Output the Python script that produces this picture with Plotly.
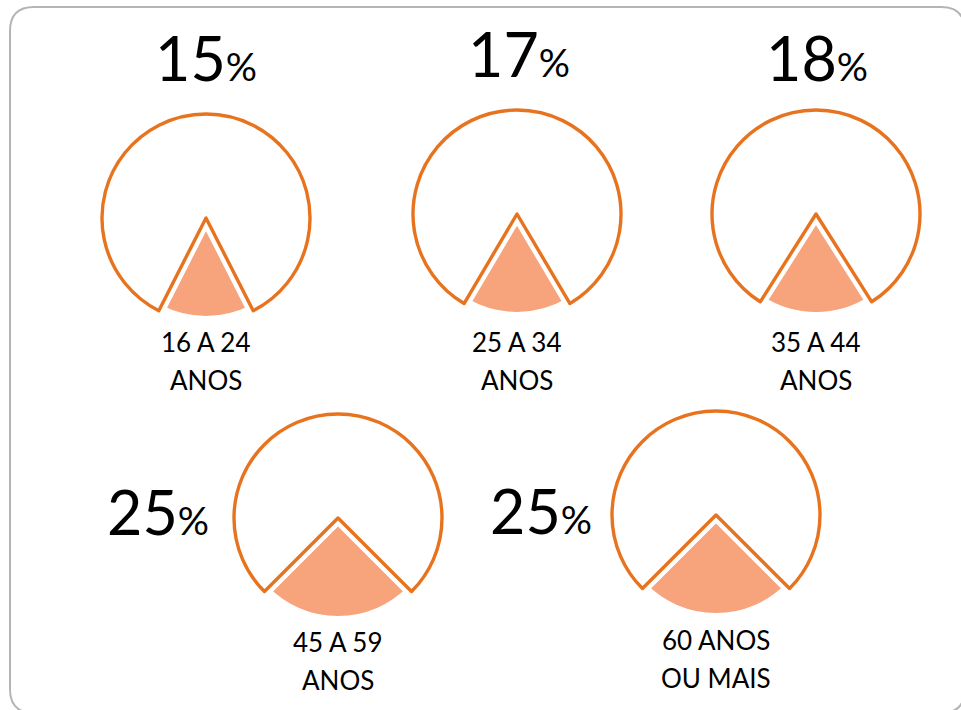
import plotly.graph_objects as go

W, H = 961, 710

# data
age_groups = ["16 A 24", "25 A 34", "35 A 44", "45 A 59", "60 ANOS"]
age_groups_2nd_line = ["ANOS", "ANOS", "ANOS", "ANOS", "OU MAIS"]
shares = [15, 17, 18, 25, 25]

# layout of each small pie (pixel centres), radius in px
centres = [(206, 218), (517, 214), (816, 214), (338, 518), (716, 515)]
R = 104
pct_pos = [(206, 84), (519, 80), (817, 84), (158, 538), (541, 537)]
lbl_pos = [(206, 352), (517, 352), (816, 352), (338, 652), (716, 650)]

ORANGE = "#E8731E"
SALMON = "#F7A37C"
FONT = "Lato, 'Open Sans', sans-serif"


def px_x(x):
    return x / W


def px_y(y):
    return 1 - y / H


fig = go.Figure()

for i, p in enumerate(shares):
    cx, cy = centres[i]
    fig.add_trace(go.Pie(
        values=[p, 100 - p],
        labels=["share", "rest"],
        sort=False,
        direction="clockwise",
        rotation=180 - p * 1.8,
        marker=dict(colors=[SALMON, "white"],
                    line=dict(color=["white", ORANGE], width=[12, 3.4])),
        textinfo="none",
        hoverinfo="skip",
        showlegend=False,
        domain=dict(x=[px_x(cx - R), px_x(cx + R)],
                    y=[px_y(cy + R), px_y(cy - R)]),
    ))

    px, py = pct_pos[i]
    fig.add_annotation(
        x=px_x(px), y=px_y(py + 12), xref="paper", yref="paper",
        text=f"<span style='font-size:61px'>{p}</span><span style='font-size:39px'>%</span>",
        showarrow=False, xanchor="center", yanchor="bottom",
        font=dict(family=FONT, size=61, color="black"),
    )

    lx, ly = lbl_pos[i]
    fig.add_annotation(
        x=px_x(lx), y=px_y(ly + 8), xref="paper", yref="paper",
        text=age_groups[i], showarrow=False, xanchor="center", yanchor="bottom",
        font=dict(family=FONT, size=26, color="black"),
    )
    fig.add_annotation(
        x=px_x(lx), y=px_y(ly + 46), xref="paper", yref="paper",
        text=age_groups_2nd_line[i], showarrow=False, xanchor="center", yanchor="bottom",
        font=dict(family=FONT, size=26, color="black"),
    )

# rounded frame around the whole graphic
x0, y0, x1, y1, r = 10, 7, 965, 713, 24
path = (
    f"M {px_x(x0 + r)},{px_y(y0)} L {px_x(x1 - r)},{px_y(y0)} "
    f"Q {px_x(x1)},{px_y(y0)} {px_x(x1)},{px_y(y0 + r)} "
    f"L {px_x(x1)},{px_y(y1 - r)} Q {px_x(x1)},{px_y(y1)} {px_x(x1 - r)},{px_y(y1)} "
    f"L {px_x(x0 + r)},{px_y(y1)} Q {px_x(x0)},{px_y(y1)} {px_x(x0)},{px_y(y1 - r)} "
    f"L {px_x(x0)},{px_y(y0 + r)} Q {px_x(x0)},{px_y(y0)} {px_x(x0 + r)},{px_y(y0)} Z"
)
fig.add_shape(type="path", path=path, xref="paper", yref="paper",
              line=dict(color="#B4B4B4", width=2), layer="below")

fig.update_layout(
    width=W, height=H,
    margin=dict(l=0, r=0, t=0, b=0),
    paper_bgcolor="white",
    plot_bgcolor="white",
)

fig.write_html("out.html", config={"displayModeBar": False},
               post_script="document.body.style.margin='0';document.body.style.overflow='hidden';")
